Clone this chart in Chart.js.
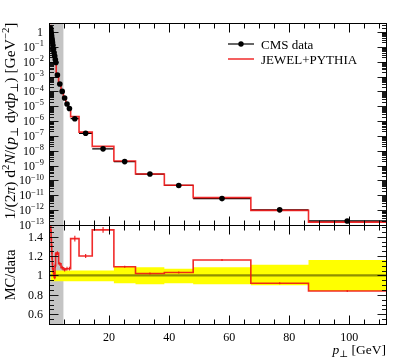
<!DOCTYPE html>
<html>
<head>
<meta charset="utf-8">
<script src="https://cdn.jsdelivr.net/npm/chart.js@4.4.1/dist/chart.umd.min.js"></script>
<style>
  body { margin: 0; background: #fff; }
  #wrap { position: relative; width: 399px; height: 360px; }
  canvas { position: absolute; left: 0; top: 0; }
</style>
</head>
<body>
<div id="wrap">
  <canvas id="spectrum" width="399" height="360"></canvas>
  <canvas id="ratio" width="399" height="360"></canvas>
</div>
<script>
// bin edges in pT [GeV]
const xEdges = [0.5, 0.6, 0.7, 0.8, 0.9, 1.0, 1.1, 1.2, 1.4, 1.6, 1.8, 2.0, 2.2, 2.4,
  3.2, 4.0, 4.8, 5.6, 6.4, 7.2, 10.0, 14.4, 21.6, 28.8, 38.4, 48.0, 67.2, 86.4, 112.2];

// CMS data, 1/(2pi) d2N/(pT dy dpT)
const dataVals = [1.78, 1.20, 0.83, 0.575, 0.398, 0.282, 0.200, 0.126, 0.0708, 0.0398,
  0.0240, 0.0141, 0.00891, 1.26e-3, 3.16e-4, 1.0e-4, 3.55e-5, 1.41e-5, 7.1e-6, 1.45e-6,
  1.5e-7, 1.35e-8, 1.86e-9, 2.7e-10, 4.6e-11, 6.0e-12, 1.05e-12, 1.86e-13];

// JEWEL+PYTHIA
const mcVals = [2.76, 1.75, 1.15, 0.753, 0.494, 0.333, 0.224, 0.135, 0.0729, 0.0398,
  0.0235, 0.0155, 0.01087, 1.55e-3, 3.54e-4, 1.08e-4, 3.76e-5, 1.51e-5, 7.6e-6, 2.0e-6,
  1.8e-7, 1.98e-8, 2.03e-9, 2.75e-10, 4.74e-11, 6.96e-12, 9.66e-13, 1.56e-13];

// MC/data ratio and its error
const ratioVals = [1.55, 1.46, 1.38, 1.31, 1.24, 1.18, 1.12, 1.07, 1.03, 1.00, 0.98, 1.10,
  1.22, 1.23, 1.12, 1.08, 1.06, 1.07, 1.07, 1.38, 1.20, 1.47, 1.09, 1.02, 1.03, 1.16, 0.92, 0.84];
const ratioErr = [0.02, 0.02, 0.02, 0.02, 0.02, 0.02, 0.02, 0.02, 0.02, 0.02, 0.02, 0.02,
  0.02, 0.02, 0.02, 0.02, 0.02, 0.02, 0.02, 0.03, 0.02, 0.03, 0.01, 0.01, 0.01, 0.01, 0.01, 0.01];

// data uncertainty band (yellow)
const bandHi = [1.05, 1.05, 1.05, 1.05, 1.05, 1.05, 1.05, 1.05, 1.05, 1.05, 1.05, 1.05, 1.05, 1.05,
  1.05, 1.05, 1.05, 1.05, 1.05, 1.05, 1.05, 1.05, 1.09, 1.085, 1.07, 1.085, 1.11, 1.16];
const bandLo = [0.94, 0.94, 0.94, 0.94, 0.94, 0.94, 0.94, 0.94, 0.94, 0.94, 0.94, 0.94, 0.94, 0.94,
  0.94, 0.94, 0.94, 0.94, 0.94, 0.94, 0.94, 0.94, 0.92, 0.91, 0.92, 0.91, 0.90, 0.84];

const xMin = 0, xMax = 112.2;
const cutEdge = 4.8; // grey shaded region
const yPowers = [0, -1, -2, -3, -4, -5, -6, -7, -8, -9, -10, -11, -12, -13];
const ratioTicks = [0.6, 0.8, 1, 1.2, 1.4];
const xTickLabels = [20, 40, 60, 80, 100];

const FONT = '"Liberation Serif", "DejaVu Serif", serif';
const RED = 'rgba(238, 20, 20, 0.9)';

function stepPoints(vals) {
  const pts = vals.map((v, i) => ({ x: xEdges[i], y: v }));
  pts.push({ x: xEdges[xEdges.length - 1], y: vals[vals.length - 1] });
  return pts;
}

function centers() {
  return dataVals.map((v, i) => (xEdges[i] + xEdges[i + 1]) / 2);
}

// draw a line of text made of runs {t, i (italic), s ('sup'|'sub')}
function richWidth(ctx, runs, size) {
  let w = 0;
  runs.forEach(r => {
    const fs = r.s ? size * 0.7 : size;
    ctx.font = (r.i ? 'italic ' : '') + fs + 'px ' + FONT;
    w += ctx.measureText(r.t).width;
  });
  return w;
}
function drawRich(ctx, runs, x, y, align, size) {
  const w = richWidth(ctx, runs, size);
  let cx = align === 'right' ? x - w : align === 'center' ? x - w / 2 : x;
  ctx.textAlign = 'left';
  ctx.textBaseline = 'alphabetic';
  runs.forEach(r => {
    const fs = r.s ? size * 0.7 : size;
    ctx.font = (r.i ? 'italic ' : '') + fs + 'px ' + FONT;
    let dy = 0;
    if (r.s === 'sup') dy = -size * 0.4;
    if (r.s === 'sub') dy = size * 0.22;
    ctx.fillText(r.t, cx, y + dy);
    cx += ctx.measureText(r.t).width;
  });
}

function hline(ctx, x1, x2, y) {
  ctx.beginPath(); ctx.moveTo(x1, y); ctx.lineTo(x2, y); ctx.stroke();
}
function vline(ctx, x, y1, y2) {
  ctx.beginPath(); ctx.moveTo(x, y1); ctx.lineTo(x, y2); ctx.stroke();
}

// frame with inward ticks on the x axis (both edges)
function drawFrameX(ctx, ca, xs) {
  ctx.strokeStyle = '#000';
  ctx.lineWidth = 1;
  const L = Math.round(ca.left) + 0.5, R = Math.round(ca.right) + 0.5;
  const T = Math.round(ca.top) + 0.5, B = Math.round(ca.bottom) + 0.5;
  ctx.strokeRect(L, T, R - L, B - T);
  for (let k = 1; k * 5 <= xMax; k++) {
    const v = k * 5;
    const px = Math.round(xs.getPixelForValue(v)) + 0.5;
    const len = v % 20 === 0 ? 9 : 5;
    vline(ctx, px, T, T + len);
    vline(ctx, px, B, B - len);
  }
  return { L, R, T, B };
}

const greyBand = {
  id: 'greyBand',
  beforeDatasetsDraw(chart) {
    const { ctx, chartArea: ca, scales: { x } } = chart;
    const x1 = x.getPixelForValue(cutEdge);
    ctx.save();
    ctx.fillStyle = '#c4c4c4';
    ctx.fillRect(ca.left, ca.top, x1 - ca.left, ca.bottom - ca.top);
    ctx.restore();
  }
};

const spectrumAxes = {
  id: 'spectrumAxes',
  afterDraw(chart) {
    const { ctx, chartArea: ca, scales: { x, y } } = chart;
    ctx.save();
    const f = drawFrameX(ctx, ca, x);
    // log ticks on left and right
    ctx.lineWidth = 0.9;
    for (let p = -13; p <= 0; p++) {
      for (let m = 1; m <= 9; m++) {
        const v = m * Math.pow(10, p);
        if (v > y.max) break;
        const py = Math.round(y.getPixelForValue(v)) + 0.5;
        const len = m === 1 ? 9 : 4.5;
        hline(ctx, f.L, f.L + len, py);
        hline(ctx, f.R, f.R - len, py);
      }
    }
    // tick labels
    ctx.fillStyle = '#000';
    yPowers.forEach(p => {
      const py = y.getPixelForValue(Math.pow(10, p)) + 4;
      if (p === 0) {
        drawRich(ctx, [{ t: '1' }], ca.left - 6, py, 'right', 12);
      } else {
        drawRich(ctx, [{ t: '10' }, { t: '\u2212' + (-p), s: 'sup' }], ca.left - 5, py, 'right', 12);
      }
    });
    // y title
    ctx.save();
    ctx.translate(15, 121);
    ctx.rotate(-Math.PI / 2);
    drawRich(ctx, [
      { t: '1/(2' }, { t: '\u03c0', i: true }, { t: ') d' }, { t: '2', s: 'sup' },
      { t: 'N', i: true }, { t: '/(' }, { t: 'p', i: true }, { t: '\u22a5', s: 'sub' },
      { t: ' d' }, { t: 'y', i: true }, { t: 'd' }, { t: 'p', i: true }, { t: '\u22a5', s: 'sub' },
      { t: ') [GeV' }, { t: '\u22122', s: 'sup' }, { t: ']' }
    ], 0, 0, 'center', 15.5);
    ctx.restore();
    // legend
    ctx.strokeStyle = '#000';
    ctx.lineWidth = 1.2;
    hline(ctx, 228, 254, 44);
    ctx.beginPath(); ctx.arc(241, 44, 2.7, 0, Math.PI * 2); ctx.fillStyle = '#000'; ctx.fill();
    ctx.strokeStyle = RED;
    ctx.lineWidth = 1.5;
    hline(ctx, 228, 254, 59);
    ctx.fillStyle = '#000';
    drawRich(ctx, [{ t: 'CMS data' }], 261, 48.5, 'left', 13);
    drawRich(ctx, [{ t: 'JEWEL+PYTHIA' }], 261, 63.5, 'left', 13);
    ctx.restore();
  }
};

const ratioAxes = {
  id: 'ratioAxes',
  afterDraw(chart) {
    const { ctx, chartArea: ca, scales: { x, y } } = chart;
    ctx.save();
    const f = drawFrameX(ctx, ca, x);
    ctx.lineWidth = 0.9;
    for (let k = 10; k <= 30; k++) {
      const v = k * 0.05;
      const py = Math.round(y.getPixelForValue(v)) + 0.5;
      if (py <= f.T + 1 || py >= f.B - 1) continue;
      const len = k % 4 === 0 ? 9 : 4.5;
      hline(ctx, f.L, f.L + len, py);
      hline(ctx, f.R, f.R - len, py);
    }
    ctx.fillStyle = '#000';
    ratioTicks.forEach(v => {
      drawRich(ctx, [{ t: String(v) }], ca.left - 6, y.getPixelForValue(v) + 4, 'right', 12);
    });
    xTickLabels.forEach(v => {
      drawRich(ctx, [{ t: String(v) }], x.getPixelForValue(v), 341, 'center', 12);
    });
    // titles
    drawRich(ctx, [{ t: 'p', i: true }, { t: '\u22a5', s: 'sub' }, { t: ' [GeV]' }], ca.right, 354, 'right', 13.5);
    ctx.save();
    ctx.translate(15, 275);
    ctx.rotate(-Math.PI / 2);
    drawRich(ctx, [{ t: 'MC/data' }], 0, 0, 'center', 14.5);
    ctx.restore();
    ctx.restore();
  }
};

const xCenters = centers();

// data horizontal bars (x errors)
const dataBars = [];
dataVals.forEach((v, i) => {
  dataBars.push({ x: xEdges[i], y: v }, { x: xEdges[i + 1], y: v }, { x: xEdges[i + 1], y: null });
});

new Chart(document.getElementById('spectrum'), {
  type: 'line',
  data: {
    datasets: [
      { type: 'scatter', data: xCenters.map((c, i) => ({ x: c, y: dataVals[i] })),
        pointRadius: 2.8, pointBackgroundColor: '#000', pointBorderWidth: 0, showLine: false },
      { data: stepPoints(mcVals), stepped: 'before', borderColor: RED, borderWidth: 1.6,
        pointRadius: 0, fill: false },
      { data: dataBars, borderColor: '#000', borderWidth: 1.3, pointRadius: 0, spanGaps: false, fill: false }
    ]
  },
  options: {
    responsive: false,
    animation: false,
    devicePixelRatio: 1,
    events: [],
    layout: { padding: { left: 49, right: 13, top: 23, bottom: 135 } },
    plugins: { legend: { display: false }, tooltip: { enabled: false } },
    scales: {
      x: { type: 'linear', min: xMin, max: xMax, display: false },
      y: { type: 'logarithmic', min: 1e-13, max: 4.04, display: false }
    }
  },
  plugins: [greyBand, spectrumAxes]
});

// ratio error ticks
const errTicks = [];
ratioVals.forEach((r, i) => {
  errTicks.push({ x: xCenters[i], y: r - ratioErr[i] }, { x: xCenters[i], y: r + ratioErr[i] }, { x: xCenters[i], y: null });
});

new Chart(document.getElementById('ratio'), {
  type: 'line',
  data: {
    datasets: [
      { data: errTicks, borderColor: RED, borderWidth: 1.2, pointRadius: 0, spanGaps: false, fill: false },
      { data: stepPoints(ratioVals), stepped: 'before', borderColor: RED, borderWidth: 1.6,
        pointRadius: 0, fill: false },
      { data: [{ x: xMin, y: 1 }, { x: xMax, y: 1 }], borderColor: 'rgba(70, 70, 0, 0.6)',
        borderWidth: 2.2, pointRadius: 0, fill: false },
      { data: stepPoints(bandHi), stepped: 'before', borderWidth: 0, borderColor: 'rgba(0,0,0,0)',
        pointRadius: 0, fill: '+1', backgroundColor: '#ffff00' },
      { data: stepPoints(bandLo), stepped: 'before', borderWidth: 0, borderColor: 'rgba(0,0,0,0)',
        pointRadius: 0, fill: false }
    ]
  },
  options: {
    responsive: false,
    animation: false,
    devicePixelRatio: 1,
    events: [],
    layout: { padding: { left: 49, right: 13, top: 225, bottom: 36 } },
    plugins: { legend: { display: false }, tooltip: { enabled: false } },
    scales: {
      x: { type: 'linear', min: xMin, max: xMax, display: false },
      y: { type: 'linear', min: 0.5, max: 1.52, display: false }
    }
  },
  plugins: [greyBand, ratioAxes]
});
</script>
</body>
</html>
